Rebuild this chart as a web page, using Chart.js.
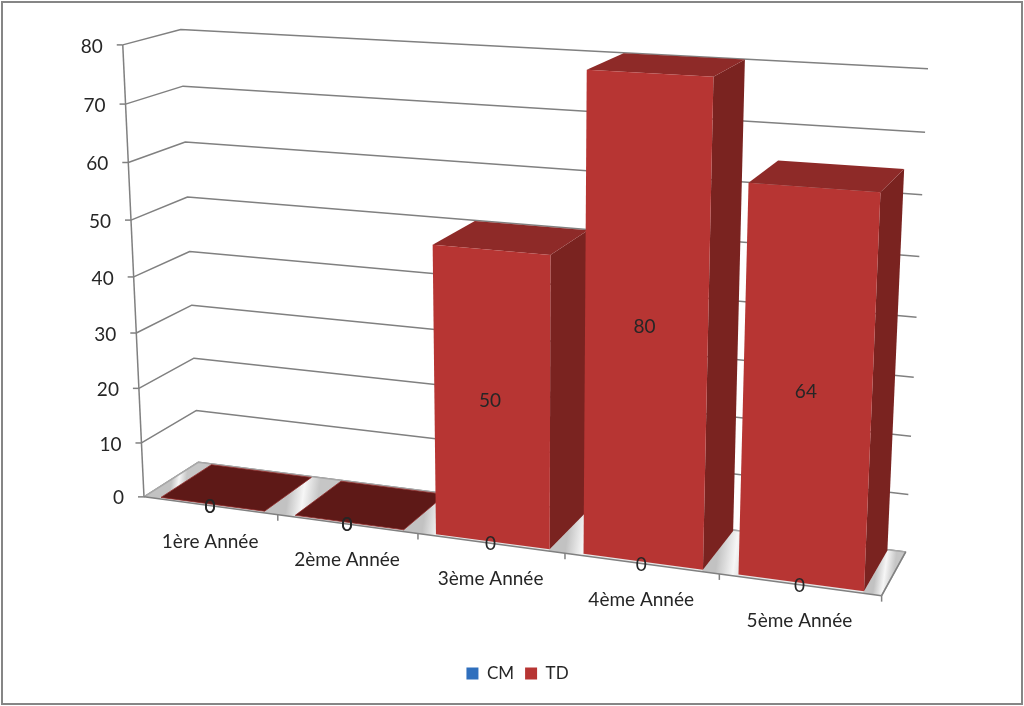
<!DOCTYPE html>
<html>
<head>
<meta charset="utf-8">
<script src="https://cdn.jsdelivr.net/npm/chart.js@4"></script>
<style>
	html, body { margin: 0; background: #fff; }
	#frame { position: absolute; left: 1px; top: 1px; width: 1018px; height: 700px; border: 2px solid #868686; }
	#chart { position: absolute; left: -3px; top: -3px; }
</style>
</head>
<body>
<div id="frame"><canvas id="chart" width="1024" height="706"></canvas></div>
<script>
const categories = ["1ère Année", "2ème Année", "3ème Année", "4ème Année", "5ème Année"];
const cmValues = [0, 0, 0, 0, 0];
const tdValues = [0, 0, 50, 80, 64];
const valueTicks = [0, 10, 20, 30, 40, 50, 60, 70, 80];

const textFont = "19px Lato";
const textColor = "#262626";
const lineColor = "#808080";
const barDepth = [0.04, 0.98];

// shades of the faces, by series
const shades = {
	CM: { front: "#2f6fbd", top: "#245a9c", side: "#1f4c85", flat: "#1f4c85" },
	TD: { front: "#b73533", top: "#8e2a28", side: "#7a2320", flat: "#5e1917" },
};

// picture position of known points of the box (u across, v up, w into the page)
const anchors = [
	[0, 0, 0, 145, 497], [1, 0, 0, 881, 596], [0, 0, 1, 198, 463], [1, 0, 1, 906, 550],
	[0, 1, 0, 122, 45], [0, 1, 1, 182, 30], [1, 1, 1, 928, 69],
	[0.2, 0, 0, 278, 514], [0.4, 0, 0, 418, 533], [0.6, 0, 0, 565, 555], [0.8, 0, 0, 719, 575],
	[0, 0.5, 0, 134, 275], [0, 0.5, 1, 188, 252], [1, 0.5, 1, 917, 317],
];

// fit the 3x4 camera matrix to the anchors by least squares
function fitCamera(points) {
	const n = 11;
	const M = Array.from({ length: n }, () => new Array(n + 1).fill(0));
	const addRow = (row, rhs) => {
		for (let i = 0; i < n; i++) {
			for (let j = 0; j < n; j++) M[i][j] += row[i] * row[j];
			M[i][n] += row[i] * rhs;
		}
	};
	points.forEach(([u, v, w, px, py]) => {
		const X = px / 1000, Y = py / 1000;
		addRow([u, v, w, 1, 0, 0, 0, 0, -X * u, -X * v, -X * w], X);
		addRow([0, 0, 0, 0, u, v, w, 1, -Y * u, -Y * v, -Y * w], Y);
	});
	for (let c = 0; c < n; c++) {
		let best = c;
		for (let r = c + 1; r < n; r++) if (Math.abs(M[r][c]) > Math.abs(M[best][c])) best = r;
		[M[c], M[best]] = [M[best], M[c]];
		for (let r = 0; r < n; r++) {
			if (r === c) continue;
			const f = M[r][c] / M[c][c];
			for (let k = c; k <= n; k++) M[r][k] -= f * M[c][k];
		}
	}
	return M.map((row, i) => row[n] / row[i]);
}

const cam = fitCamera(anchors);

function project(u, v, w) {
	const d = cam[8] * u + cam[9] * v + cam[10] * w + 1;
	return [
		1000 * (cam[0] * u + cam[1] * v + cam[2] * w + cam[3]) / d,
		1000 * (cam[4] * u + cam[5] * v + cam[6] * w + cam[7]) / d,
	];
}

function poly(ctx, pts, fill) {
	ctx.beginPath();
	pts.forEach((p, i) => (i ? ctx.lineTo(p[0], p[1]) : ctx.moveTo(p[0], p[1])));
	ctx.closePath();
	ctx.fillStyle = fill;
	ctx.fill();
}

function path(ctx, pts) {
	ctx.beginPath();
	pts.forEach((p, i) => (i ? ctx.lineTo(p[0], p[1]) : ctx.moveTo(p[0], p[1])));
	ctx.stroke();
}

function floorGap(ctx, u0, u1) {
	const a = project(u0, 0, 0.5), b = project(u1, 0, 0.5);
	const g = ctx.createLinearGradient(a[0], a[1], b[0], b[1]);
	g.addColorStop(0, "#c2c2c2");
	g.addColorStop(0.5, "#f6f6f6");
	g.addColorStop(1, "#c6c6c6");
	poly(ctx, [project(u0, 0, 0), project(u1, 0, 0), project(u1, 0, 1), project(u0, 0, 1)], g);
}

const box3d = {
	id: "box3d",
	beforeDatasetDraw() {
		return false; // the flat bars are replaced by the projected ones below
	},
	afterDatasetsDraw(chart) {
		const ctx = chart.ctx, x = chart.scales.x, y = chart.scales.y;
		const U = (px) => (px - x.left) / x.width;
		const V = (py) => (y.bottom - py) / y.height;
		const back = chart.getDatasetMeta(chart.data.datasets.length - 1).data;

		ctx.save();
		ctx.strokeStyle = lineColor;
		ctx.lineWidth = 1.5;
		ctx.lineJoin = "round";

		// walls
		valueTicks.forEach((t) => {
			const v = V(y.getPixelForValue(t));
			const p = project(0, v, 0);
			path(ctx, [p, project(0, v, 1), project(1, v, 1)]);
			path(ctx, [[p[0] - 6, p[1]], p]);
		});
		path(ctx, [project(0, 0, 0), project(0, 1, 0)]);

		// floor
		poly(ctx, [project(0, 0, 0), project(1, 0, 0), project(1, 0, 1), project(0, 0, 1)], "#e8e8e8");
		let edge = 0;
		back.forEach((el) => {
			floorGap(ctx, edge, U(el.x - el.width / 2));
			edge = U(el.x + el.width / 2);
		});
		floorGap(ctx, edge, 1);
		ctx.strokeStyle = "#a8a8a8";
		path(ctx, [project(0, 0, 0), project(0, 0, 1), project(1, 0, 1), project(1, 0, 0)]);
		ctx.strokeStyle = lineColor;
		path(ctx, [project(0, 0, 0), project(1, 0, 0)]);
		path(ctx, [project(1, 0, 0), project(1, 0, 1)]);
		x.ticks.forEach((t, i) => {
			const p = project(U(x.getPixelForTick(i)) + 0.5 / categories.length, 0, 0);
			path(ctx, [p, [p[0], p[1] + 6]]);
		});

		// bars, left to right
		categories.forEach((c, i) => {
			chart.data.datasets.forEach((ds, d) => {
				const el = chart.getDatasetMeta(d).data[i];
				if (ds.data[i] === 0 && d < chart.data.datasets.length - 1) return;
				const shade = shades[ds.label];
				const u0 = U(el.x - el.width / 2), u1 = U(el.x + el.width / 2);
				const v0 = V(el.base), v1 = V(el.y);
				const [w0, w1] = barDepth;
				if (ds.data[i] === 0) {
					poly(ctx, [project(u0, v1, w0), project(u1, v1, w0), project(u1, v1, w1), project(u0, v1, w1)], shade.flat);
					ctx.save();
					ctx.strokeStyle = shade.top;
					ctx.lineWidth = 0.8;
					path(ctx, [project(u0, v1, w0), project(u1, v1, w0), project(u1, v1, w1), project(u0, v1, w1), project(u0, v1, w0)]);
					ctx.restore();
					return;
				}
				poly(ctx, [project(u1, v0, w0), project(u1, v0, w1), project(u1, v1, w1), project(u1, v1, w0)], shade.side);
				poly(ctx, [project(u0, v1, w0), project(u1, v1, w0), project(u1, v1, w1), project(u0, v1, w1)], shade.top);
				poly(ctx, [project(u0, v0, w0), project(u1, v0, w0), project(u1, v1, w0), project(u0, v1, w0)], shade.front);
			});
		});

		// texts
		ctx.font = textFont;
		ctx.fillStyle = textColor;
		ctx.textBaseline = "middle";
		ctx.textAlign = "right";
		valueTicks.forEach((t) => {
			const p = project(0, V(y.getPixelForValue(t)), 0);
			ctx.fillText(String(t), p[0] - 20, p[1] + 1.5);
		});
		ctx.textAlign = "center";
		categories.forEach((c, i) => {
			const p = project(U(x.getPixelForValue(i)), 0, 0);
			ctx.fillText(c, p[0], p[1] + 36);
		});
		chart.data.datasets.forEach((ds, d) => {
			chart.getDatasetMeta(d).data.forEach((el, i) => {
				const p = project(U(el.x), V((el.y + el.base) / 2), 0);
				ctx.fillText(String(ds.data[i]), p[0], p[1] + 1);
			});
		});
		ctx.restore();
	},
};

new Chart(document.getElementById("chart"), {
	type: "bar",
	data: {
		labels: categories,
		datasets: [
			{ label: "CM", data: cmValues, backgroundColor: shades.CM.front, barPercentage: 0.775, categoryPercentage: 1 },
			{ label: "TD", data: tdValues, backgroundColor: shades.TD.front, barPercentage: 0.775, categoryPercentage: 1 },
		],
	},
	options: {
		responsive: false,
		animation: false,
		layout: { padding: { left: 11, bottom: 14 } },
		plugins: {
			tooltip: { enabled: false },
			legend: {
				position: "bottom",
				labels: { boxWidth: 12, boxHeight: 12, padding: 11, color: textColor, font: { family: "Lato", size: 17 } },
			},
		},
		scales: {
			x: { stacked: true, display: false },
			y: {
				stacked: true,
				display: false,
				min: valueTicks[0],
				max: valueTicks[valueTicks.length - 1],
				afterBuildTicks: (scale) => { scale.ticks = valueTicks.map((value) => ({ value })); },
			},
		},
	},
	plugins: [box3d],
});
</script>
</body>
</html>
